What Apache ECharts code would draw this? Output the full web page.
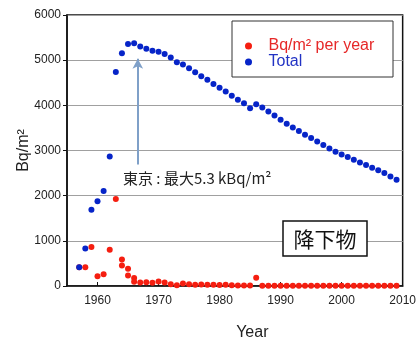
<!DOCTYPE html>
<html><head><meta charset="utf-8">
<script src="https://cdn.jsdelivr.net/npm/echarts@6/dist/echarts.min.js"></script>
<style>html,body{margin:0;padding:0;background:#fff}#c{width:419px;height:347px}</style>
</head><body><div id="c"></div>
<script>
// ---- data ----
const totalYears = [1957,1958,1959,1960,1961,1962,1963,1964,1965,1966,1967,1968,1969,1970,1971,1972,1973,1974,1975,1976,1977,1978,1979,1980,1981,1982,1983,1984,1985,1986,1987,1988,1989,1990,1991,1992,1993,1994,1995,1996,1997,1998,1999,2000,2001,2002,2003,2004,2005,2006,2007,2008,2009];
const totalValues = [415,829,1690,1874,2104,2869,4740,5153,5359,5374,5300,5255,5211,5189,5138,5057,4955,4902,4822,4733,4645,4564,4475,4387,4305,4210,4122,4048,3938,4026,3951,3863,3775,3680,3590,3510,3430,3350,3275,3200,3120,3045,2972,2913,2855,2796,2736,2678,2619,2560,2501,2427,2354];
const yearlyYears = [1957,1958,1959,1960,1961,1962,1963,1964,1964,1965,1965,1966,1966,1967,1968,1969,1970,1971,1972,1973,1974,1975,1976,1977,1978,1979,1980,1981,1982,1983,1984,1985,1986,1987,1988,1989,1990,1991,1992,1993,1994,1995,1996,1997,1998,1999,2000,2001,2002,2003,2004,2005,2006,2007,2008,2009];
const yearlyValues = [415,415,866,217,261,800,1927,586,453,380,232,175,95,75,84,71,99,77,40,18,55,40,26,33,30,25,22,25,15,12,10,10,181,5,5,5,5,5,5,5,5,5,5,5,5,5,5,5,5,5,5,5,5,5,5,5];
const xTickValues = [1960,1970,1980,1990,2000,2010];
const seriesNames = ['Bq/m² per year', 'Total'];
const arrowYear = 1966.6, arrowFrom = 2690, arrowTo = 5030;
const noteText = '東京 : 最大5.3 kBq/m²';
const boxText = '降下物';

const zip = (xs, ys) => xs.map((x, i) => [x, ys[i]]);
const plain = v => String(v);

const chart = echarts.init(document.getElementById('c'), null, {renderer: 'canvas'});
chart.setOption({
  animation: false,
  backgroundColor: '#fff',
  grid: {left: 67, right: 13, top: 15, bottom: 61, show: true, borderColor: '#111', borderWidth: 1.5, backgroundColor: 'transparent'},
  xAxis: {
    type: 'value', min: 1955, max: 2010,
    axisLine: {show: true, lineStyle: {color: '#111', width: 1.5}},
    axisTick: {show: true, inside: true, length: 4, customValues: xTickValues, lineStyle: {color: '#111'}},
    axisLabel: {customValues: xTickValues, formatter: plain, margin: 9, color: '#222', fontSize: 12, fontFamily: 'Liberation Sans'},
    splitLine: {show: false},
    name: 'Year', nameLocation: 'middle', nameGap: 39, nameMoveOverlap: false,
    nameTextStyle: {fontSize: 16, color: '#222', fontFamily: 'Liberation Sans', padding: [0, 0, 0, 35]}
  },
  yAxis: {
    type: 'value', min: 0, max: 6000, interval: 1000,
    axisLine: {show: true, lineStyle: {color: '#111', width: 1.5}},
    axisTick: {show: true, inside: false, length: 4, lineStyle: {color: '#111'}},
    axisLabel: {formatter: plain, margin: 6, color: '#222', fontSize: 12, fontFamily: 'Liberation Sans'},
    splitLine: {show: true, lineStyle: {color: '#a0a0a0', width: 1}},
    name: 'Bq/m²', nameLocation: 'middle', nameGap: 35, nameMoveOverlap: false,
    nameTextStyle: {fontSize: 16, color: '#222', fontFamily: 'Liberation Sans'}
  },
  legend: {
    orient: 'vertical', left: 245, top: 38, padding: 0, itemGap: 0,
    itemWidth: 20, itemHeight: 7, icon: 'circle',
    textStyle: {fontSize: 16, fontFamily: 'Liberation Sans', lineHeight: 16, padding: [0, 0, 0, 5]},
    data: [
      {name: seriesNames[0], textStyle: {color: '#e62828'}},
      {name: seriesNames[1], textStyle: {color: '#2233c4'}}
    ]
  },
  graphic: [
    {type: 'rect', z: 3, shape: {x: 232, y: 21, width: 161, height: 56}, style: {fill: '#fff', stroke: '#333', lineWidth: 1}},
    {type: 'rect', z: 10, shape: {x: 283, y: 221, width: 84, height: 35}, style: {fill: '#fff', stroke: '#111', lineWidth: 1.5}},
    {type: 'text', z: 11, x: 325, y: 239, style: {text: boxText, fill: '#111', font: '21px "Noto Sans CJK JP"', textAlign: 'center', textVerticalAlign: 'middle'}},
    {type: 'text', z: 11, x: 123, y: 178, style: {text: noteText, fill: '#222', font: '15px "Noto Sans CJK JP"', textAlign: 'left', textVerticalAlign: 'middle'}}
  ],
  series: [
    {
      name: seriesNames[0], type: 'scatter', symbol: 'circle', symbolSize: 6,
      itemStyle: {color: '#f51e10', opacity: 1},
      data: zip(yearlyYears, yearlyValues)
    },
    {
      name: seriesNames[1], type: 'scatter', symbol: 'circle', symbolSize: 6,
      itemStyle: {color: '#0624c8', opacity: 1},
      data: zip(totalYears, totalValues),
      markLine: {
        silent: true, symbol: ['none', 'arrow'], symbolSize: [8, 10],
        lineStyle: {color: '#7fa0c8', width: 2, type: 'solid'},
        label: {show: false},
        data: [[{coord: [arrowYear, arrowFrom]}, {coord: [arrowYear, arrowTo]}]]
      }
    }
  ]
});
</script></body></html>
